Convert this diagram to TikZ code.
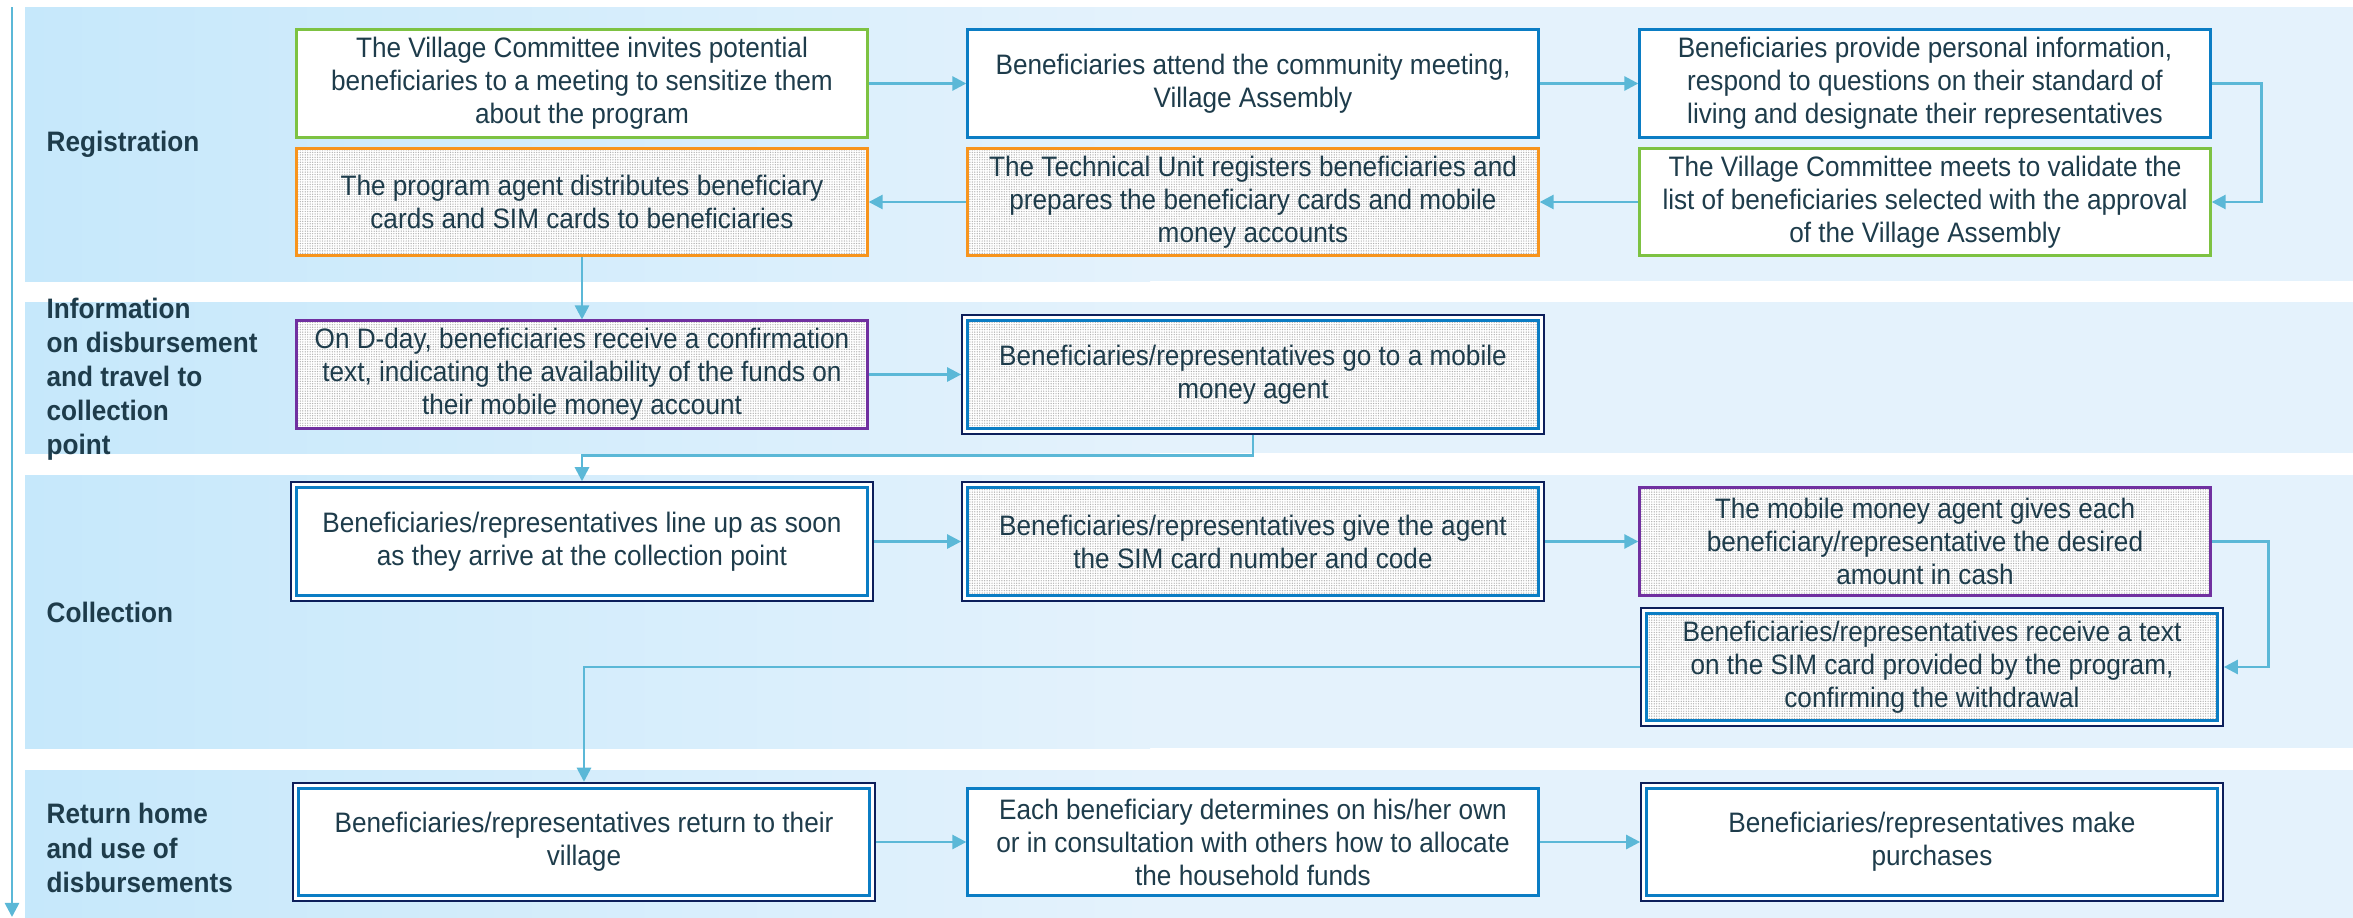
\documentclass[tikz,border=0pt]{standalone}
\usepackage{fontspec}
\setmainfont{Liberation Sans}[FakeStretch=0.93]
\usetikzlibrary{arrows.meta,patterns.meta}
\definecolor{txt}{HTML}{1E3C4B}
\definecolor{bandL}{HTML}{C6E8FB}
\definecolor{bandR}{HTML}{E4F2FC}
\definecolor{flowc}{HTML}{5BB8D7}
\definecolor{grn}{HTML}{7DC242}
\definecolor{blu}{HTML}{0B7DC4}
\definecolor{org}{HTML}{F7941D}
\definecolor{prp}{HTML}{7030A0}
\definecolor{nvy}{HTML}{0C1F5B}
\begin{document}
\begin{tikzpicture}[x=0.01cm,y=-0.01cm,
  box/.style={draw,line width=0.85pt,fill=white,align=center,text=txt,
    minimum width=5.7cm,minimum height=1.07cm,inner sep=2pt,
    font=\fontsize{8}{9.4}\selectfont},
  grnbox/.style={box,draw=grn},
  blubox/.style={box,draw=blu},
  orgbox/.style={box,draw=org,speckle},
  prpbox/.style={box,draw=prp,speckle},
  dblbox/.style={box,draw=blu,outer sep=1.9pt,
    preaction={draw=nvy,line width=3.8pt},
    preaction={draw=white,line width=2.6pt}},
  speckle/.style={preaction={fill=white},
    pattern={Dots[radius=0.2pt,distance=0.7pt]},pattern color=gray!60},
  stage/.style={align=left,anchor=west,inner sep=0pt,text=txt,
    font=\fontsize{8}{9.7}\selectfont\bfseries},
  flow/.style={draw=flowc,line width=0.75pt,-{Triangle[length=4pt,width=4pt]}}]
\useasboundingbox (0,0) rectangle (2353,918);

% stage bands
\shade[left color=bandL,right color=bandR] (25,7) rectangle (1150,281);
\fill[bandR] (1149,7) rectangle (2353,281);
\shade[left color=bandL,right color=bandR] (25,302) rectangle (1150,453);
\fill[bandR] (1149,302) rectangle (2353,453);
\shade[left color=bandL,right color=bandR] (25,475) rectangle (1150,748);
\fill[bandR] (1149,475) rectangle (2353,748);
\shade[left color=bandL,right color=bandR] (25,770) rectangle (1150,918);
\fill[bandR] (1149,770) rectangle (2353,918);

\coordinate (axtop) at (12,7);
\coordinate (axbot) at (12,917);
\draw[flow] (axtop) -- (axbot);

\node[stage] (reg) at (46,144) {Registration};
\node[stage] (info) at (46,379) {Information\\on disbursement\\and travel to\\collection\\point};
\node[stage] (coll) at (46,612) {Collection};
\node[stage] (ret) at (46,848) {Return home\\and use of\\disbursements};

% registration
\node[grnbox] (invite) at (582,83.5)
  {The Village Committee invites potential\\beneficiaries to a meeting to sensitize them\\about the program};
\node[blubox] (attend) at (1253,83.5)
  {Beneficiaries attend the community meeting,\\Village Assembly};
\node[blubox] (provide) at (1925,83.5)
  {Beneficiaries provide personal information,\\respond to questions on their standard of\\living and designate their representatives};
\node[grnbox] (validate) at (1925,202)
  {The Village Committee meets to validate the\\list of beneficiaries selected with the approval\\of the Village Assembly};
\node[orgbox] (register) at (1253,202)
  {The Technical Unit registers beneficiaries and\\prepares the beneficiary cards and mobile\\money accounts};
\node[orgbox] (distribute) at (582,202)
  {The program agent distributes beneficiary\\cards and SIM cards to beneficiaries};

% information
\node[prpbox] (dday) at (582,374.5)
  {On D-day, beneficiaries receive a confirmation\\text, indicating the availability of the funds on\\their mobile money account};
\node[dblbox,speckle] (goagent) at (1253,374.5)
  {Beneficiaries/representatives go to a mobile\\money agent};

% collection
\node[dblbox] (lineup) at (582,541.5)
  {Beneficiaries/representatives line up as soon\\as they arrive at the collection point};
\node[dblbox,speckle] (give) at (1253,541.5)
  {Beneficiaries/representatives give the agent\\the SIM card number and code};
\node[prpbox] (cash) at (1925,541.5)
  {The mobile money agent gives each\\beneficiary/representative the desired\\amount in cash};
\node[dblbox,speckle] (receipt) at (1932,667)
  {Beneficiaries/representatives receive a text\\on the SIM card provided by the program,\\confirming the withdrawal};

% return home
\node[dblbox] (home) at (584,842)
  {Beneficiaries/representatives return to their\\village};
\node[blubox] (allocate) at (1253,842)
  {Each beneficiary determines on his/her own\\or in consultation with others how to allocate\\the household funds};
\node[dblbox] (buy) at (1932,842)
  {Beneficiaries/representatives make\\purchases};

\draw[flow] (invite) -- (attend);
\draw[flow] (attend) -- (provide);
\draw[flow] (provide.east) -- ++(50,0) |- (validate.east);
\draw[flow] (validate) -- (register);
\draw[flow] (register) -- (distribute);
\draw[flow] (distribute) -- (dday);
\draw[flow] (dday) -- (goagent);
\draw[flow] (goagent.south) -- ++(0,21) -| (lineup.north);
\draw[flow] (lineup) -- (give);
\draw[flow] (give) -- (cash);
\draw[flow] (cash.east) -- ++(57,0) |- (receipt.east);
\draw[flow] (receipt.west) -| (home.north);
\draw[flow] (home) -- (allocate);
\draw[flow] (allocate) -- (buy);
\end{tikzpicture}
\end{document}
